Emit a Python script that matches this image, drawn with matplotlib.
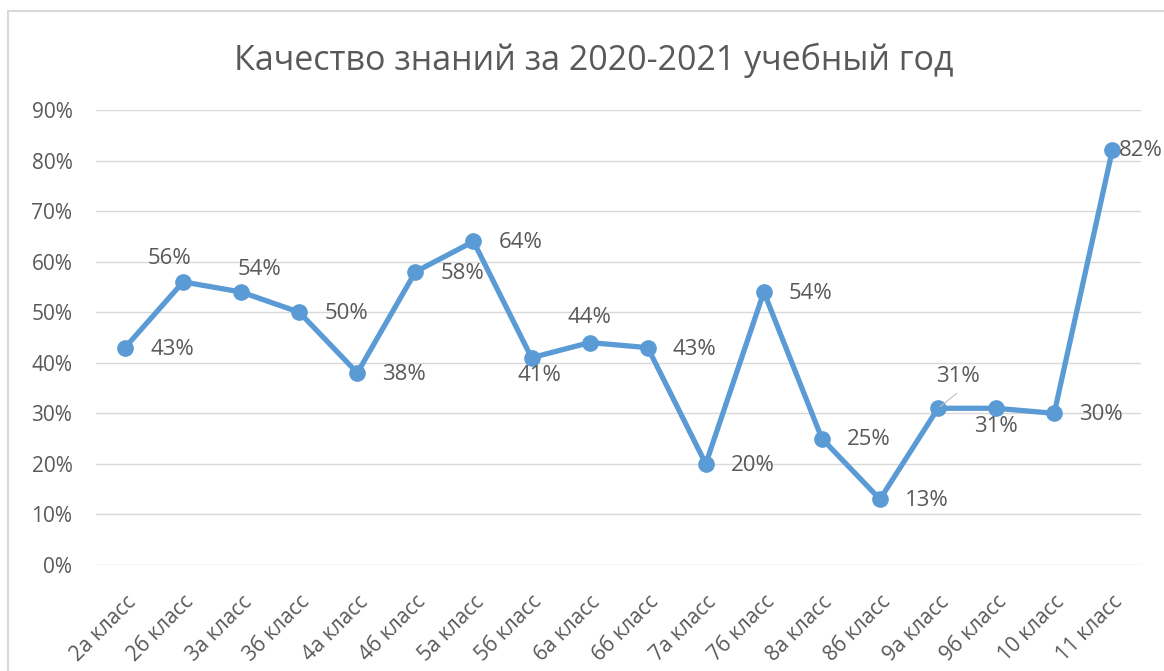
import matplotlib.pyplot as plt
from matplotlib.patches import Rectangle

plt.rcParams['font.family'] = ['Open Sans', 'DejaVu Sans']

# data
classes = ['2а класс', '2б класс', '3а класс', '3б класс', '4а класс', '4б класс',
           '5а класс', '5б класс', '6а класс', '6б класс', '7а класс', '7б класс',
           '8а класс', '8б класс', '9а класс', '9б класс', '10 класс', '11 класс']
quality = [43, 56, 54, 50, 38, 58, 64, 41, 44, 43, 20, 54, 25, 13, 31, 31, 30, 82]

# label offsets in points (dx, dy, ha)
offsets = [(18, -1, 'left'), (-10, 17, 'center'), (13, 16, 'center'), (18, -1, 'left'),
           (18, -1, 'left'), (18, -1, 'left'), (18, -1, 'left'), (6, -13, 'center'),
           (0, 18, 'center'), (18, -1, 'left'), (18, -1, 'left'), (18, -1, 'left'),
           (18, -1, 'left'), (18, -1, 'left'), (14, 23, 'center'), (0, -13, 'center'),
           (18, -1, 'left'), (5, 0, 'left')]

grey = '#595959'
blue = '#5B9BD5'

fig = plt.figure(figsize=(11.64, 6.71), dpi=100)
ax = fig.add_axes([0.0825, 0.158, 0.898, 0.678])

x = list(range(len(classes)))
ax.plot(x, quality, color=blue, linewidth=3.8, marker='o', markersize=11, zorder=3)

for i, v in enumerate(quality):
    dx, dy, ha = offsets[i]
    ax.annotate(f'{v}%', (i, v), xytext=(dx, dy), textcoords='offset points',
                ha=ha, va='center', fontsize=16, color=grey, annotation_clip=False)

# leader line for 9а
ax.annotate('', (14, 31), xytext=(15, 12), textcoords='offset points',
            arrowprops=dict(arrowstyle='-', color='#BFBFBF', lw=0.8))

ax.set_xlim(-0.5, len(classes) - 0.5)
ax.set_ylim(0, 90)
ax.set_yticks(range(0, 91, 10))
ax.set_yticklabels([f'{t}%' for t in range(0, 91, 10)])
ax.set_xticks(x)
ax.set_xticklabels(classes, rotation=45, ha='right', rotation_mode='anchor')
ax.tick_params(length=0, labelsize=15, labelcolor=grey)
ax.tick_params(axis='y', pad=17)
ax.tick_params(axis='x', pad=19)
ax.grid(axis='y', color='#D9D9D9', linewidth=1)
ax.set_axisbelow(True)
for s in ax.spines.values():
    s.set_visible(False)

fig.text(0.51, 0.91, 'Качество знаний за 2020-2021 учебный год',
         ha='center', va='center', fontsize=24.5, color=grey)

# chart frame
fig.patches.append(Rectangle((8 / 1164, -0.05), 1.1, 1 - 11 / 671 + 0.05,
                             transform=fig.transFigure, fill=False,
                             edgecolor='#D9D9D9', linewidth=1.5))

plt.savefig('out.png')
